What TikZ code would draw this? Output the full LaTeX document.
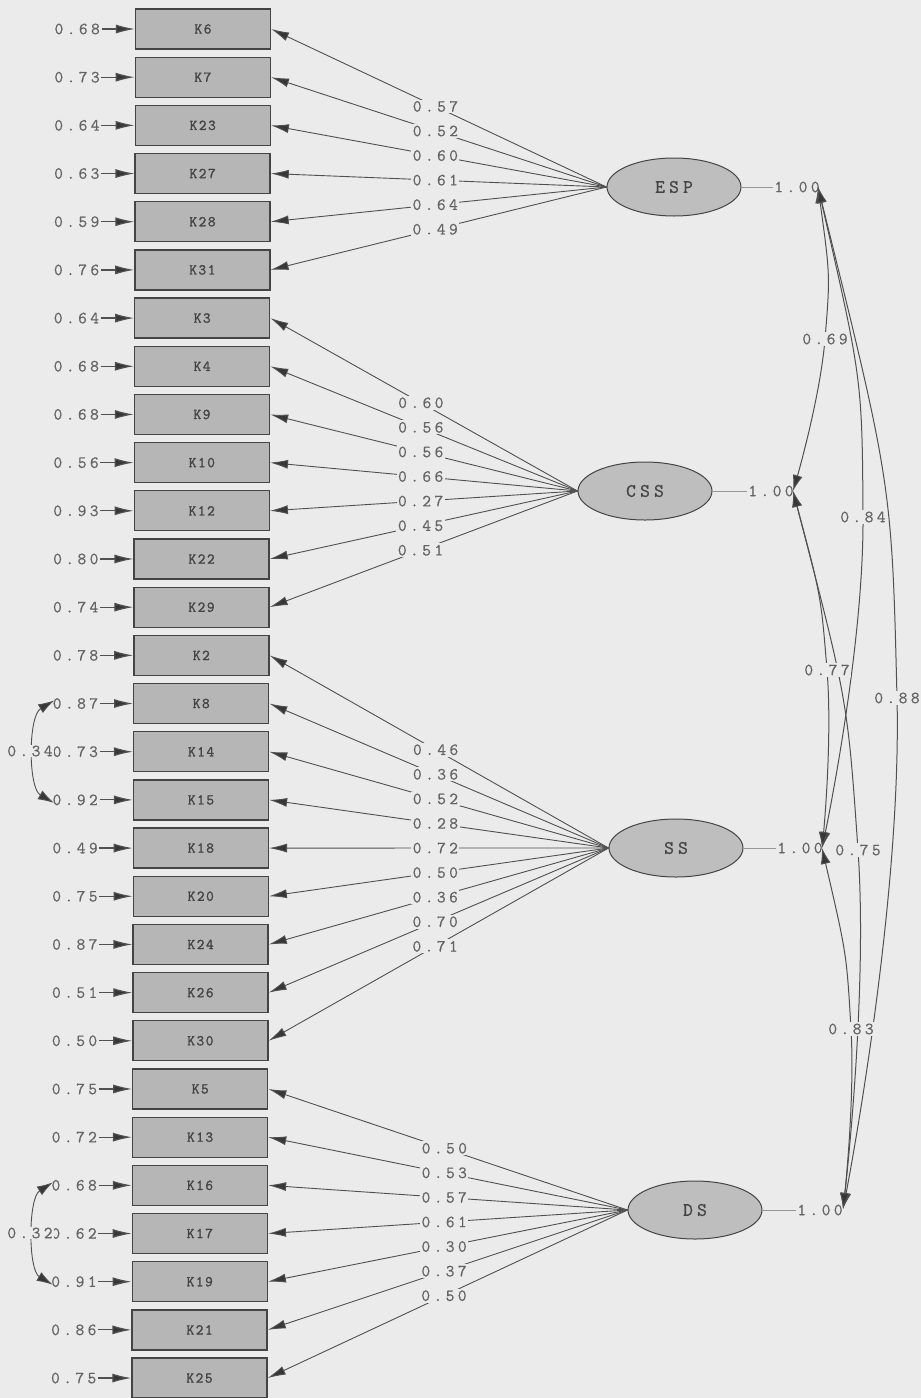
\documentclass[tikz,border=0pt]{standalone}
\usepackage{fontspec}
\newfontfamily\numfont[LetterSpace=20,FakeBold=0.6]{Latin Modern Mono}
\newfontfamily\boxfont[LetterSpace=10,FakeBold=1.5]{Latin Modern Mono}
\newfontfamily\labfont[LetterSpace=22,FakeBold=0.8]{Latin Modern Mono}
\usetikzlibrary{arrows.meta,shapes.geometric}
\definecolor{bg}{RGB}{235,235,236}
\definecolor{boxfill}{RGB}{182,182,182}
\definecolor{ellfill}{RGB}{190,190,190}
\definecolor{edgec}{RGB}{68,68,68}
\definecolor{numc}{RGB}{100,100,100}
\definecolor{linec}{RGB}{80,80,80}
\definecolor{headc}{RGB}{55,55,55}
\definecolor{thinc}{RGB}{150,150,150}
\begin{document}
\begin{tikzpicture}[x=1pt,y=-1pt,
  obs/.style={draw=edgec, line width=1.3pt, fill=boxfill, minimum width=135pt, minimum height=40pt, inner sep=0pt, font=\boxfont\fontsize{15}{15}\selectfont, text=edgec},
  lat/.style={ellipse, draw=edgec, line width=1pt, fill=ellfill, minimum width=134pt, minimum height=58pt, inner sep=0pt, font=\labfont\fontsize{19}{19}\selectfont, text=edgec},
  num/.style={font=\numfont\fontsize{17}{17}\selectfont, text=numc, inner sep=1.5pt},
  errarr/.style={draw=linec, line width=1.2pt, -{Latex[length=19pt,width=9pt,fill=headc]}},
  loadarr/.style={draw=linec, line width=0.9pt, -{Latex[length=18pt,width=9pt,fill=headc]}},
  corr/.style={draw=linec, line width=1pt, {Latex[length=16pt,width=10pt,fill=headc]}-{Latex[length=16pt,width=10pt,fill=headc]}},
  varline/.style={draw=thinc, line width=0.8pt}
]
\fill[bg] (0,0) rectangle (921,1398);
\useasboundingbox (0,0) rectangle (921,1398);

% latent variables
\node[lat] (ESP) at (674,187) {ESP};
\node[lat] (CSS) at (645,491) {CSS};
\node[lat] (SS)  at (676,848) {SS};
\node[lat] (DS)  at (695,1210) {DS};

% indicators, error variances and loadings
\foreach \nm/\er/\ld/\f [count=\i from 0] in {
  K6/0.68/0.57/ESP, K7/0.73/0.52/ESP, K23/0.64/0.60/ESP, K27/0.63/0.61/ESP, K28/0.59/0.64/ESP, K31/0.76/0.49/ESP,
  K3/0.64/0.60/CSS, K4/0.68/0.56/CSS, K9/0.68/0.56/CSS, K10/0.56/0.66/CSS, K12/0.93/0.27/CSS, K22/0.80/0.45/CSS, K29/0.74/0.51/CSS,
  K2/0.78/0.46/SS, K8/0.87/0.36/SS, K14/0.73/0.52/SS, K15/0.92/0.28/SS, K18/0.49/0.72/SS, K20/0.75/0.50/SS, K24/0.87/0.36/SS, K26/0.51/0.70/SS, K30/0.50/0.71/SS,
  K5/0.75/0.50/DS, K13/0.72/0.53/DS, K16/0.68/0.57/DS, K17/0.62/0.61/DS, K19/0.91/0.30/DS, K21/0.86/0.37/DS, K25/0.75/0.50/DS}{
  \pgfmathsetmacro\yy{29+48.18*\i}
  \pgfmathsetmacro\xl{135.5-0.125*\i}
  \node[obs] (\nm) at (\xl+67.5,\yy) {\nm};
  \node[num, anchor=east] (e\nm) at (\xl-34,\yy) {\er};
  \draw[errarr] (e\nm.east) -- (\nm.west);
  \draw[loadarr] (\f.west) -- node[num, fill=bg, pos=0.51] (l\nm) {\ld} (\nm.east);
}

% variances of latent variables
\node[num] (vESP) at (797,187) {1.00};
\node[num] (vCSS) at (771,491) {1.00};
\node[num] (vSS)  at (800,848) {1.00};
\node[num] (vDS)  at (820,1210) {1.00};
\draw[varline] (ESP.east) -- (vESP.west);
\draw[varline] (CSS.east) -- (vCSS.west);
\draw[varline] (SS.east) -- (vSS.west);
\draw[varline] (DS.east) -- (vDS.west);

\coordinate (tESP) at (818,187);
\coordinate (tCSS) at (793,491);
\coordinate (tSS)  at (822,848);
\coordinate (tDS)  at (843,1209);

\coordinate (m1) at (825,339);
\coordinate (m2) at (863,517);
\coordinate (m3) at (897,698);
\coordinate (m4) at (827,670);
\coordinate (m5) at (858,850);
\coordinate (m6) at (851,1029);

\draw[corr] plot[smooth, tension=0.75] coordinates {(tESP) (m1) (tCSS)};
\draw[corr] plot[smooth, tension=0.75] coordinates {(tESP) (m2) (tSS)};
\draw[corr] plot[smooth, tension=0.75] coordinates {(tESP) (m3) (tDS)};
\draw[corr] plot[smooth, tension=0.75] coordinates {(tCSS) (m4) (tSS)};
\draw[corr] plot[smooth, tension=0.75] coordinates {(tCSS) (m5) (tDS)};
\draw[corr] plot[smooth, tension=0.75] coordinates {(tSS) (m6) (tDS)};

\node[num, fill=bg] at (m1) {0.69};
\node[num, fill=bg] at (m2) {0.84};
\node[num, fill=bg] at (m3) {0.88};
\node[num, fill=bg] at (m4) {0.77};
\node[num, fill=bg] at (m5) {0.75};
\node[num, fill=bg] at (m6) {0.83};

% error covariances
\draw[corr, line width=0.9pt] ([shift={(3,-3)}]eK8.west) .. controls (28,716) and (28,788) .. ([shift={(3,3)}]eK15.west);
\node[num, fill=bg, inner sep=1pt] (c1) at (30,751) {0.34};
\draw[corr, line width=0.9pt] ([shift={(3,-3)}]eK16.west) .. controls (28,1198) and (28,1270) .. ([shift={(3,3)}]eK19.west);
\node[num, fill=bg, inner sep=1pt] (c2) at (30,1233) {0.32};
\end{tikzpicture}
\end{document}
